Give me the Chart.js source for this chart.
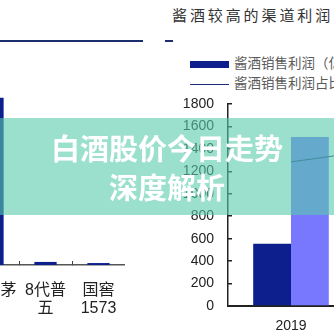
<!DOCTYPE html>
<html><head><meta charset="utf-8">
<script src="https://cdn.jsdelivr.net/npm/chart.js@4.4.0/dist/chart.umd.min.js"></script>
<style>
html,body{margin:0;padding:0;width:334px;height:334px;overflow:hidden;background:#fff;font-family:"Liberation Sans","Noto Sans CJK SC",sans-serif;}
.abs{position:absolute;}
#leftChart{left:-40px;top:70px;}
#rightChart{left:170px;top:90px;}
#hline{left:0;top:40px;width:143px;height:2px;background:#1b2f6e;}
#hline2{left:165px;top:40px;width:8px;height:2px;background:#1b2f6e;}
#title{left:172px;top:5px;font-family:"Noto Sans CJK SC",sans-serif;font-size:15px;letter-spacing:2.9px;color:#333;white-space:nowrap;line-height:20px;}
.lg{left:190px;white-space:nowrap;font-family:"Noto Sans CJK SC",sans-serif;font-size:13.5px;color:#5a5a5a;line-height:18px;}
.lg span.sw{display:inline-block;width:39px;vertical-align:middle;margin-right:5px;}
#banner{left:0;top:118px;width:334px;height:97px;background:rgba(88,203,172,0.6);}
#bannerText{left:0;top:128px;width:334px;text-align:center;color:#fff;font-family:"Noto Sans CJK SC",sans-serif;font-weight:bold;font-size:29px;line-height:39px;}
</style></head>
<body>
<div id="hline" class="abs"></div>
<div id="hline2" class="abs"></div>
<div id="title" class="abs"></div>
<div id="lg1" class="abs lg" style="top:53px"></div>
<div id="lg2" class="abs lg" style="top:73px"></div>
<canvas id="leftChart" class="abs" width="165" height="255"></canvas>
<canvas id="rightChart" class="abs" width="436" height="244"></canvas>
<div id="banner" class="abs"></div>
<div id="bannerText" class="abs"></div>
<script>
// ---- data ----
const headline = ['白酒股价今日走势', '深度解析'];
const rightTitle = '酱酒较高的渠道利润';
const leftCategories = [['飞天茅', '台'], ['8代普', '五'], ['国窖', '1573']];
const leftValues = [1200, 22, 14];
const years = ['2019', '2020', '2021'];
const seriesNames = ['酱酒销售利润（亿元）', '酱酒销售利润占比（右）', '白酒行业利润（亿元）'];
const sauceProfit = [555, 710, 900];
const liquorProfit = [1505, 1590, 1950];
const sauceShare = [42.8, 48, 50];
const yTickMin = 0, yTickMax = 1800, yTickStep = 200;

const darkBlue = '#0c1f8c', lightBar = '#7878ff', lineColor = '#1f2d80';

document.getElementById('title').textContent = rightTitle;
document.getElementById('bannerText').innerHTML = headline.map(t => '<div>' + t + '</div>').join('');
document.getElementById('lg1').innerHTML = '<span class="sw" style="height:7px;background:' + darkBlue + '"></span>' + seriesNames[0];
document.getElementById('lg2').innerHTML = '<span class="sw" style="height:1px;background:' + lineColor + '"></span>' + seriesNames[1];

const fam = '"Liberation Sans","Noto Sans CJK SC",sans-serif';

new Chart(document.getElementById('leftChart'), {
  type: 'bar',
  data: {labels: leftCategories, datasets: [{data: leftValues, backgroundColor: darkBlue, categoryPercentage: 1, barPercentage: 0.42}]},
  options: {
    responsive: false, animation: false,
    layout: {padding: {left: 6, right: 0, top: 0, bottom: 0}},
    plugins: {legend: {display: false}, tooltip: {enabled: false}},
    scales: {
      x: {
        grid: {display: true, drawOnChartArea: false, tickLength: -4, color: '#444', lineWidth: 1},
        border: {display: true, color: '#555', width: 1.5},
        ticks: {color: '#222', font: {family: fam, size: 16, lineHeight: 1.125}, padding: 21, maxRotation: 0, autoSkip: false},
        afterFit: s => { s.height = 60; s.paddingLeft = 0; s.paddingRight = 0; }
      },
      y: {display: false, min: 0, max: 1400}
    }
  }
});

new Chart(document.getElementById('rightChart'), {
  data: {
    labels: years,
    datasets: [
      {type: 'line', label: seriesNames[1], data: sauceShare, yAxisID: 'y1', borderColor: lineColor, borderWidth: 1, pointRadius: 0, order: 0},
      {type: 'bar', label: seriesNames[0], data: sauceProfit, backgroundColor: darkBlue, categoryPercentage: 0.6, barPercentage: 1, order: 1},
      {type: 'bar', label: seriesNames[2], data: liquorProfit, backgroundColor: lightBar, categoryPercentage: 0.6, barPercentage: 1, order: 1}
    ]
  },
  options: {
    responsive: false, animation: false,
    layout: {padding: {left: 0, right: 0, top: 14, bottom: 0}},
    plugins: {legend: {display: false}, tooltip: {enabled: false}},
    scales: {
      x: {
        grid: {display: false, drawTicks: false},
        border: {display: true, color: '#222', width: 2},
        ticks: {color: '#222', font: {family: fam, size: 14}, padding: 12, maxRotation: 0},
        afterFit: s => { s.height = 28; s.paddingLeft = 0; s.paddingRight = 0; }
      },
      y: {
        min: yTickMin, max: yTickMax,
        grid: {display: true, drawOnChartArea: false, tickLength: -4, color: '#222', lineWidth: 1.5},
        border: {display: true, color: '#222', width: 1.5},
        ticks: {stepSize: yTickStep, color: '#222', font: {family: fam, size: 14}, padding: 18, callback: v => String(v)},
        afterFit: s => { s.width = 58; s.paddingTop = 0; s.paddingBottom = 0; }
      },
      y1: {display: false, position: 'right', min: 0, max: 60}
    }
  }
});
</script>
</body></html>
